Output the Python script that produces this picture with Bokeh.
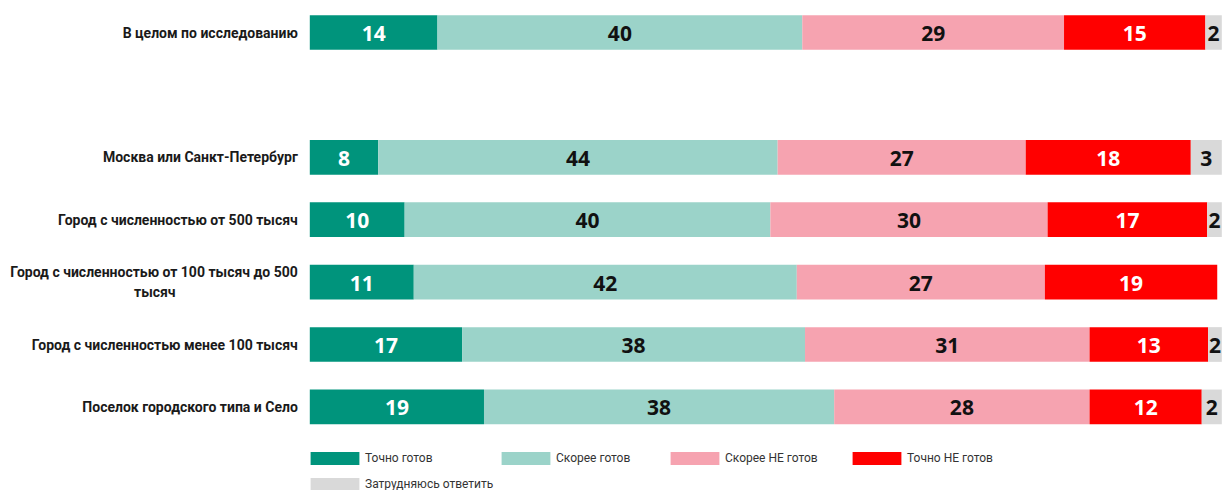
from bokeh.plotting import figure
from bokeh.models import Range1d, ColumnDataSource, Legend, LegendItem
from bokeh.core.properties import value
from bokeh.embed import file_html
from bokeh.resources import INLINE

# ---------------- data ----------------
categories = [
    "В целом по исследованию",
    "Москва или Санкт-Петербург",
    "Город с численностью от 500 тысяч",
    "Город с численностью от 100 тысяч до 500\nтысяч",
    "Город с численностью менее 100 тысяч",
    "Поселок городского типа и Село",
]
row_slots = [0, 2, 3, 4, 5, 6]

series_names = ["Точно готов", "Скорее готов", "Скорее НЕ готов", "Точно НЕ готов", "Затрудняюсь ответить"]
tochno_gotov = [14.0, 7.5, 10.4, 11.4, 16.7, 19.1]
skoree_gotov = [40.0, 43.8, 40.1, 42.0, 37.6, 38.4]
skoree_ne_gotov = [28.7, 27.2, 30.4, 27.2, 31.2, 28.0]
tochno_ne_gotov = [15.5, 18.1, 17.5, 18.9, 13.0, 12.3]
zatrudnyayus = [1.8, 3.4, 1.6, 0.0, 1.5, 2.2]

labels_tochno_gotov = ["14", "8", "10", "11", "17", "19"]
labels_skoree_gotov = ["40", "44", "40", "42", "38", "38"]
labels_skoree_ne_gotov = ["29", "27", "30", "27", "31", "28"]
labels_tochno_ne_gotov = ["15", "18", "17", "19", "13", "12"]
labels_zatrudnyayus = ["2", "3", "2", "", "2", "2"]

series_values = [tochno_gotov, skoree_gotov, skoree_ne_gotov, tochno_ne_gotov, zatrudnyayus]
series_labels = [labels_tochno_gotov, labels_skoree_gotov, labels_skoree_ne_gotov,
                 labels_tochno_ne_gotov, labels_zatrudnyayus]

# ---------------- styles ----------------
colors = ["#00947C", "#9BD3C9", "#F6A3B0", "#FF0000", "#D9D9D9"]
label_colors = ["white", "#111111", "#111111", "white", "#111111"]

W, H = 1223, 490
PX_PER_UNIT = 9.12
BAR_LEFT_PX = 309.3
ROW_PX = 62.4
FIRST_ROW_PX = 32.0

x_start = -BAR_LEFT_PX / PX_PER_UNIT
x_end = x_start + W / PX_PER_UNIT
y_top = -FIRST_ROW_PX / ROW_PX
y_bottom = y_top + H / ROW_PX

p = figure(width=W, height=H, x_range=Range1d(x_start, x_end),
           y_range=Range1d(y_bottom, y_top), x_axis_type=None, y_axis_type=None,
           output_backend="svg", toolbar_location=None, min_border=0)
p.grid.visible = False
p.outline_line_color = None
p.background_fill_color = "white"
p.border_fill_color = "white"

bar_h = 0.556
cum = [0.0] * len(categories)
renderers = []
for vals, labs, col, lcol in zip(series_values, series_labels, colors, label_colors):
    left = cum[:]
    right = [a + b for a, b in zip(cum, vals)]
    src = ColumnDataSource(dict(y=row_slots, left=left, right=right,
                                mid=[(a + b) / 2 for a, b in zip(left, right)],
                                lab=labs))
    r = p.hbar(y="y", left="left", right="right", height=bar_h, source=src,
               fill_color=col, line_color=None)
    renderers.append(r)
    p.text(x="mid", y="y", text="lab", source=src, text_align="center",
           text_baseline="middle", text_color=lcol, text_font=value("Open Sans"),
           text_font_style="bold", text_font_size="21px", y_offset=1)
    cum = right

# category labels
single_y, single_t, ml_y1, ml_t1, ml_y2, ml_t2 = [], [], [], [], [], []
for cat, s in zip(categories, row_slots):
    parts = cat.split("\n")
    if len(parts) == 1:
        single_y.append(s)
        single_t.append(cat)
    else:
        ml_y1.append(s)
        ml_t1.append(parts[0])
        ml_y2.append(s)
        ml_t2.append(parts[1])

lab_style = dict(text_font=value("Roboto"), text_font_style="bold",
                 text_font_size="14px", text_color="#1a1a1a", text_baseline="middle")
p.text(x=[0] * len(single_y), y=single_y, text=single_t, text_align="right",
       x_offset=-12, **lab_style)
p.text(x=[0] * len(ml_y1), y=ml_y1, text=ml_t1, text_align="right",
       x_offset=-12, y_offset=-10, **lab_style)
p.text(x=[0] * len(ml_y2), y=ml_y2, text=ml_t2, text_align="center",
       x_offset=-155, y_offset=10, **lab_style)

# legend: one Legend per item at its own spot (legend glyphs are inset by 10%)
legend_spots = [(304, 24), (495, 24), (664, 24), (846, 24), (304, -2)]
for name, r, loc in zip(series_names, renderers, legend_spots):
    leg = Legend(items=[LegendItem(label=name, renderers=[r])], location=loc,
                 orientation="horizontal", padding=0, margin=0, spacing=0,
                 glyph_width=61, glyph_height=16, label_height=16, label_standoff=0,
                 label_text_font="Roboto", label_text_font_size="12px",
                 label_text_color="#333333", background_fill_alpha=0,
                 border_line_alpha=0)
    p.add_layout(leg)

open("out.html", "w").write(file_html(p, INLINE))
